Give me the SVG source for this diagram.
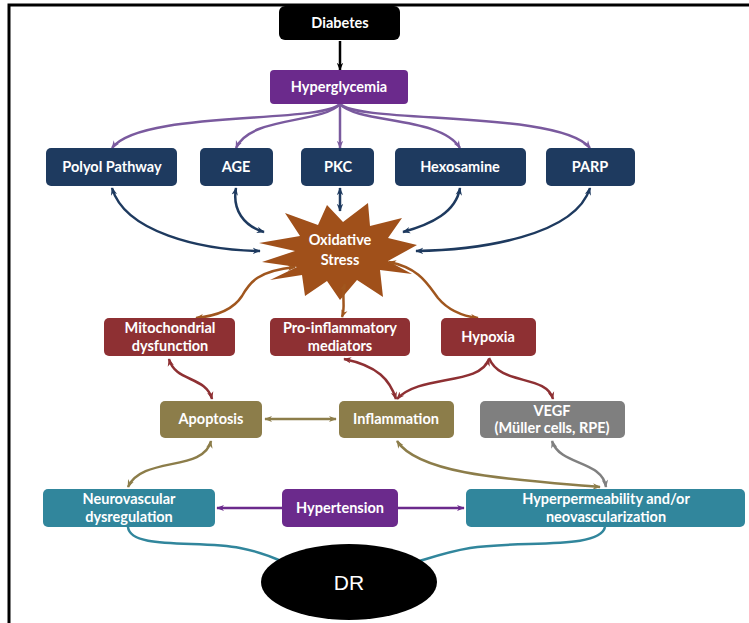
<svg xmlns="http://www.w3.org/2000/svg" width="749" height="623" viewBox="0 0 749 623">
<style>
.t{font-family:Lato,"Open Sans","Liberation Sans",sans-serif;font-weight:bold;font-size:14.5px;fill:#fff;text-anchor:middle}
.c{fill:none;stroke-width:2.5}
.navy{fill:#1E3A5F}.red{fill:#8E3033}.olive{fill:#8C7D4A}.teal{fill:#31869C}.purple{fill:#6B2A8C}
</style>
<defs>
<marker id="mBlack" viewBox="0 0 10 10" refX="9" refY="5" markerWidth="8" markerHeight="8" markerUnits="userSpaceOnUse" orient="auto-start-reverse"><path d="M0,1 L10,5 L0,9 L3,5 z" fill="#000"/></marker>
<marker id="mPur" viewBox="0 0 10 10" refX="9" refY="5" markerWidth="8" markerHeight="8" markerUnits="userSpaceOnUse" orient="auto-start-reverse"><path d="M0,1 L10,5 L0,9 L3,5 z" fill="#7A5A9E"/></marker>
<marker id="mNavy" viewBox="0 0 10 10" refX="9" refY="5" markerWidth="8" markerHeight="8" markerUnits="userSpaceOnUse" orient="auto-start-reverse"><path d="M0,1 L10,5 L0,9 L3,5 z" fill="#1E3A5F"/></marker>
<marker id="mBrown" viewBox="0 0 10 10" refX="9" refY="5" markerWidth="8" markerHeight="8" markerUnits="userSpaceOnUse" orient="auto-start-reverse"><path d="M0,1 L10,5 L0,9 L3,5 z" fill="#A0561E"/></marker>
<marker id="mRed" viewBox="0 0 10 10" refX="9" refY="5" markerWidth="8" markerHeight="8" markerUnits="userSpaceOnUse" orient="auto-start-reverse"><path d="M0,1 L10,5 L0,9 L3,5 z" fill="#8E3033"/></marker>
<marker id="mOlive" viewBox="0 0 10 10" refX="9" refY="5" markerWidth="8" markerHeight="8" markerUnits="userSpaceOnUse" orient="auto-start-reverse"><path d="M0,1 L10,5 L0,9 L3,5 z" fill="#8C7D4A"/></marker>
<marker id="mGray" viewBox="0 0 10 10" refX="9" refY="5" markerWidth="8" markerHeight="8" markerUnits="userSpaceOnUse" orient="auto-start-reverse"><path d="M0,1 L10,5 L0,9 L3,5 z" fill="#808080"/></marker>
<marker id="mHyp" viewBox="0 0 10 10" refX="9" refY="5" markerWidth="8" markerHeight="8" markerUnits="userSpaceOnUse" orient="auto-start-reverse"><path d="M0,1 L10,5 L0,9 L3,5 z" fill="#6B2A8C"/></marker>
</defs>
<rect width="749" height="623" fill="#fff"/>
<path d="M9,623 L9,5 L749,5" fill="none" stroke="#000" stroke-width="3"/>

<g id="oxidative-stress">
<polygon fill="#A0501A" points="259,243 300,236 285,213 318,225 327,205 343,222 368,203 370,226 402,218 388,238 417,245 388,261 412,274 380,270 383,297 357,280 340,300 327,281 305,296 302,275 270,280 297,267 262,262 295,251"/>
<text class="t" x="340" y="245">Oxidative</text>
<text class="t" x="340" y="265">Stress</text>
</g>

<g id="connectors">
<path class="c" stroke="#000" stroke-width="2" d="M340,41 L340,70" marker-end="url(#mBlack)"/>
<g stroke="#7A5A9E">
<path class="c" d="M340,104 C320,124 140,110 112,148" marker-end="url(#mPur)"/>
<path class="c" d="M340,104 C322,124 250,116 236,148" marker-end="url(#mPur)"/>
<path class="c" d="M340,104 L340,148" marker-end="url(#mPur)"/>
<path class="c" d="M340,104 C358,124 440,116 460,148" marker-end="url(#mPur)"/>
<path class="c" d="M340,104 C360,124 560,110 590,148" marker-end="url(#mPur)"/>
</g>
<g stroke="#1E3A5F">
<path class="c" d="M112,188 C125,232 200,250 260,251" marker-start="url(#mNavy)" marker-end="url(#mNavy)"/>
<path class="c" d="M236,188 C232,210 244,226 264,232" marker-start="url(#mNavy)" marker-end="url(#mNavy)"/>
<path class="c" d="M340,188 L340,211" marker-start="url(#mNavy)" marker-end="url(#mNavy)"/>
<path class="c" d="M460,188 C456,212 432,224 403,232" marker-start="url(#mNavy)" marker-end="url(#mNavy)"/>
<path class="c" d="M590,188 C575,236 480,250 416,251" marker-start="url(#mNavy)" marker-end="url(#mNavy)"/>
</g>
<g stroke="#A0561E">
<path class="c" d="M295,267 C258,271 250,282 242,296 C233,310 216,316 196,318" marker-start="url(#mBrown)" marker-end="url(#mBrown)"/>
<path class="c" d="M345,284 C341,296 346,306 342,317" marker-start="url(#mBrown)" marker-end="url(#mBrown)"/>
<path class="c" d="M389,262 C420,268 428,285 438,298 C448,310 462,316 478,318" marker-start="url(#mBrown)" marker-end="url(#mBrown)"/>
</g>
<g stroke="#8E3033">
<path class="c" d="M169,359 C175,382 206,376 212,399" marker-start="url(#mRed)" marker-end="url(#mRed)"/>
<path class="c" d="M344,359 C378,366 390,380 396,399" marker-start="url(#mRed)" marker-end="url(#mRed)"/>
<path class="c" d="M489,359 C480,386 420,374 397,399" marker-start="url(#mRed)" marker-end="url(#mRed)"/>
<path class="c" d="M489,358 C500,386 546,374 553,399" marker-end="url(#mRed)"/>
</g>
<g stroke="#8C7D4A">
<path class="c" d="M265,419 L336,419" marker-start="url(#mOlive)" marker-end="url(#mOlive)"/>
<path class="c" d="M211,441 C204,472 142,456 128,487" marker-start="url(#mOlive)" marker-end="url(#mOlive)"/>
<path class="c" d="M397,441 C420,476 520,480 600,487" marker-start="url(#mOlive)" marker-end="url(#mOlive)"/>
</g>
<path class="c" stroke="#808080" d="M552,441 C560,466 602,460 606,487" marker-start="url(#mGray)" marker-end="url(#mGray)"/>
<g stroke="#6B2A8C">
<path class="c" d="M282,508 L217,508" marker-end="url(#mHyp)"/>
<path class="c" d="M398,508 L464,508" marker-end="url(#mHyp)"/>
</g>
<g stroke="#31869C">
<path class="c" d="M128,527 C130,550 200,540 240,548 C262,552 275,558 286,563"/>
<path class="c" d="M605,527 C600,550 520,540 470,548 C446,552 430,558 413,563"/>
</g>
</g>

<g id="diabetes"><rect x="279" y="6" width="121" height="34" rx="6" fill="#000"/><text class="t" x="340" y="28">Diabetes</text></g>
<g id="hyperglycemia"><rect x="270" y="70" width="138" height="34" rx="4" class="purple"/><text class="t" x="339" y="92">Hyperglycemia</text></g>

<g id="polyol"><rect x="46" y="148" width="131" height="38" rx="5" class="navy"/><text class="t" x="112" y="172">Polyol Pathway</text></g>
<g id="age"><rect x="200" y="148" width="73" height="38" rx="5" class="navy"/><text class="t" x="236" y="172">AGE</text></g>
<g id="pkc"><rect x="301" y="148" width="73" height="38" rx="5" class="navy"/><text class="t" x="338" y="172">PKC</text></g>
<g id="hexosamine"><rect x="395" y="148" width="131" height="38" rx="5" class="navy"/><text class="t" x="460" y="172">Hexosamine</text></g>
<g id="parp"><rect x="546" y="148" width="89" height="38" rx="5" class="navy"/><text class="t" x="590" y="172">PARP</text></g>

<g id="mitochondrial"><rect x="104" y="318" width="131" height="38" rx="5" class="red"/><text class="t" x="170" y="333">Mitochondrial</text><text class="t" x="170" y="351">dysfunction</text></g>
<g id="pro-inflammatory"><rect x="270" y="318" width="140" height="38" rx="5" class="red"/><text class="t" x="340" y="333">Pro-inflammatory</text><text class="t" x="340" y="351">mediators</text></g>
<g id="hypoxia"><rect x="441" y="318" width="95" height="38" rx="5" class="red"/><text class="t" x="488" y="342">Hypoxia</text></g>

<g id="apoptosis"><rect x="160" y="401" width="102" height="37" rx="5" class="olive"/><text class="t" x="211" y="424">Apoptosis</text></g>
<g id="inflammation"><rect x="339" y="401" width="115" height="37" rx="5" class="olive"/><text class="t" x="396" y="424">Inflammation</text></g>
<g id="vegf"><rect x="480" y="401" width="145" height="37" rx="5" fill="#7F7F7F"/><text class="t" x="552" y="416">VEGF</text><text class="t" x="552" y="433">(Müller cells, RPE)</text></g>

<g id="neurovascular"><rect x="43" y="489" width="172" height="38" rx="5" class="teal"/><text class="t" x="129" y="504">Neurovascular</text><text class="t" x="129" y="522">dysregulation</text></g>
<g id="hypertension"><rect x="282" y="489" width="116" height="38" rx="5" class="purple"/><text class="t" x="340" y="513">Hypertension</text></g>
<g id="hyperpermeability"><rect x="466" y="489" width="279" height="38" rx="5" class="teal"/><text class="t" x="606" y="504">Hyperpermeability and/or</text><text class="t" x="606" y="522">neovascularization</text></g>

<g id="dr"><ellipse cx="349" cy="582" rx="88" ry="38" fill="#000"/><text x="349" y="590" style="font-family:'Liberation Sans',Arial,sans-serif;font-size:21px;fill:#fff;text-anchor:middle">DR</text></g>
</svg>
